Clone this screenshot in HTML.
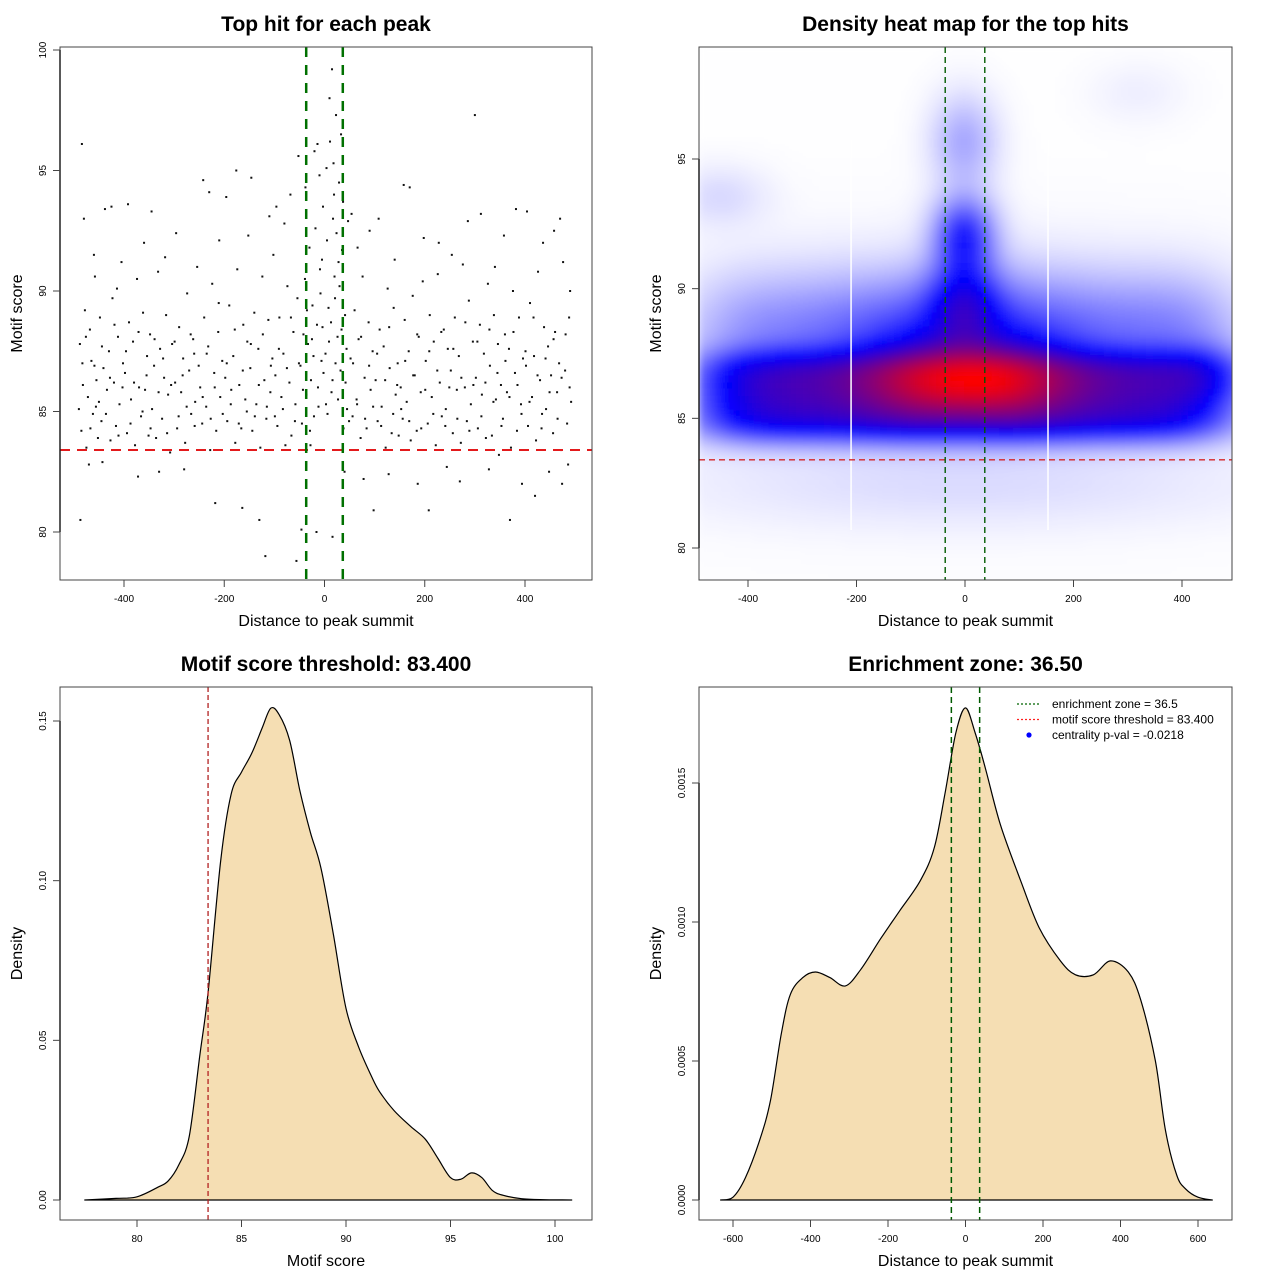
<!DOCTYPE html>
<html><head><meta charset="utf-8"><style>
html,body{margin:0;padding:0;background:#fff}
svg{display:block;font-family:"Liberation Sans",Arial,sans-serif}
</style></head><body>
<svg id="fig" width="1280" height="1280" viewBox="0 0 1280 1280" xmlns="http://www.w3.org/2000/svg">
<defs>
<filter id="blur" x="0" y="0" width="1" height="1"><feGaussianBlur stdDeviation="4"/></filter>
<clipPath id="clip2"><rect x="699" y="47" width="533" height="533"/></clipPath>
</defs>
<g id="p1"></g>
<g id="p2"></g>
<g id="p3"></g>
<g id="p4"></g>
</svg>
<script>
// ---------- data ----------
const hits = [[-488,87.8],[-485,84.2],[-482,86.1],[-478,89.2],[-475,83.5],[-472,85.6],[-468,88.4],[-465,87.1],[-462,84.9],[-458,90.6],[-455,86.3],[-452,83.9],[-484,96.1],[-487,80.5],[-480,93],[-470,82.8],[-460,91.5],[-456,85.2],
[-448,88.9],[-445,84.6],[-441,86.8],[-438,93.4],[-434,85.9],[-430,87.5],[-427,83.8],[-423,89.7],[-420,86.2],[-416,84.4],[-412,88.1],[-409,85.3],[-405,91.2],[-402,87.0],[-443,82.9],[-425,93.5],[-414,90.1],
[-398,86.6],[-394,84.1],[-390,88.7],[-386,85.5],[-382,87.9],[-378,83.6],[-374,90.5],[-370,86.0],[-366,84.8],[-362,89.1],[-358,85.9],[-354,87.3],[-392,93.6],[-372,82.3],[-360,92.0],[-351,84.0],
[-348,88.2],[-344,85.1],[-340,86.9],[-336,83.9],[-332,90.8],[-328,87.6],[-324,84.7],[-320,86.4],[-316,89.0],[-312,85.7],[-308,83.3],[-304,87.8],[-345,93.3],[-330,82.5],[-318,91.4],
[-298,86.2],[-294,84.3],[-290,88.5],[-286,85.8],[-282,87.2],[-278,83.7],[-274,89.9],[-270,86.7],[-266,84.9],[-262,88.0],[-258,85.4],[-254,91.0],[-296,92.4],[-280,82.6],[-260,87.4],
[-248,86.0],[-244,84.5],[-240,88.9],[-236,85.2],[-232,87.7],[-228,83.4],[-224,90.3],[-220,86.6],[-216,84.2],[-212,88.3],[-208,85.6],[-204,87.1],[-242,94.6],[-230,94.1],[-218,81.2],[-210,92.1],
[-198,86.4],[-194,84.6],[-190,89.4],[-186,85.9],[-182,87.3],[-178,83.7],[-174,90.9],[-170,86.1],[-166,84.3],[-162,88.6],[-158,85.5],[-154,87.9],[-196,93.9],[-176,95.0],[-164,81.0],[-152,92.3],
[-148,86.8],[-144,84.2],[-140,89.1],[-136,85.3],[-132,87.6],[-128,83.5],[-124,90.6],[-120,86.3],[-116,84.7],[-112,88.8],[-108,85.8],[-104,87.2],[-146,94.7],[-130,80.5],[-118,79.0],[-110,93.1],[-102,91.5],
[-98,86.5],[-94,84.4],[-90,88.9],[-86,85.6],[-82,87.4],[-78,83.6],[-74,90.2],[-70,86.2],[-66,84.0],[-62,88.3],[-58,85.3],[-54,89.7],[-96,93.5],[-80,92.8],[-68,94.0],[-56,78.8],[-52,95.6],
[-48,86.9],[-45,84.5],[-42,88.2],[-39,90.5],[-36,85.7],[-33,87.8],[-30,91.8],[-27,86.3],[-24,89.4],[-21,84.8],[-18,92.6],[-15,88.6],[-12,85.2],[-9,90.9],[-6,87.1],[-3,93.5],[-46,80.1],[-38,94.3],[-28,83.6],[-20,95.8],[-14,96.1],[-8,89.9],[-5,91.3],[-2,86.6],[-25,88.0],[-10,94.8],[-16,80.0],
[2,87.4],[5,92.1],[8,89.3],[11,96.2],[14,85.8],[17,93.0],[20,90.6],[23,97.3],[26,88.1],[29,94.5],[32,86.7],[35,91.7],[38,84.3],[41,89.0],[44,87.6],[47,92.9],[4,95.1],[10,98.0],[15,99.2],[19,94.0],[24,92.4],[28,91.2],[33,96.5],[13,88.7],[22,87.0],[37,93.7],[45,85.1],[6,84.9],[30,90.2],[16,79.8],[40,82.5],[18,95.3],
[52,87.2],[56,84.8],[60,89.2],[64,85.5],[68,88.0],[72,83.9],[76,90.6],[80,86.4],[84,84.3],[88,88.7],[92,85.9],[96,87.5],[54,93.2],[66,91.8],[78,82.2],[90,92.5],[98,80.9],
[102,86.3],[106,84.6],[110,88.4],[114,85.2],[118,87.7],[122,83.5],[126,90.1],[130,86.8],[134,84.1],[138,89.3],[142,85.7],[146,87.0],[108,93.0],[128,82.4],[140,91.3],[148,84.0],
[152,86.0],[156,84.7],[160,88.8],[164,85.4],[168,87.5],[172,83.8],[176,89.8],[180,86.5],[184,84.2],[188,88.1],[192,85.8],[196,90.4],[158,94.4],[170,94.3],[186,82.0],[198,92.2],
[202,87.1],[206,84.5],[210,89.0],[214,85.6],[218,87.9],[222,83.6],[226,90.7],[230,86.2],[234,84.8],[238,88.4],[242,85.1],[246,87.6],[208,80.9],[228,92.0],[244,82.7],
[252,86.7],[256,84.1],[260,88.9],[264,85.9],[268,87.3],[272,83.7],[276,91.1],[280,86.0],[284,84.6],[288,89.6],[292,85.3],[296,87.9],[254,91.5],[270,82.1],[286,92.9],[300,97.3],
[302,86.4],[306,84.3],[310,88.6],[314,85.7],[318,87.4],[322,83.9],[326,90.3],[330,86.9],[334,84.0],[338,89.0],[342,85.5],[346,87.8],[312,93.2],[328,82.6],[340,91.0],[348,83.2],
[352,86.1],[356,84.7],[360,88.2],[364,85.8],[368,87.6],[372,83.5],[376,90.0],[380,86.6],[384,84.2],[388,88.9],[392,85.3],[396,87.2],[358,92.3],[370,80.5],[382,93.4],[394,82.0],
[402,86.9],[406,84.4],[410,89.5],[414,85.6],[418,87.3],[422,83.8],[426,90.8],[430,86.3],[434,84.9],[438,88.5],[442,85.1],[446,87.7],[404,93.3],[420,81.5],[436,92.0],[448,82.5],
[452,86.5],[456,84.1],[460,88.3],[464,85.8],[468,87.0],[472,83.4],[476,91.2],[480,86.7],[484,84.5],[488,88.9],[492,85.4],[470,93.0],[486,82.8],[490,90.0],[458,92.5],[474,82.0]];
const bandHits = [[-490,85.1],[-483,87.0],[-476,88.1],[-467,84.3],[-459,86.9],[-450,85.4],[-444,87.7],[-436,84.9],[-428,86.4],[-419,88.6],[-411,84.0],[-403,86.0],[-396,87.5],[-387,84.5],[-380,86.2],[-371,88.3],[-363,85.0],[-355,86.5],[-347,84.3],[-339,88.0],[-331,85.8],[-322,87.2],[-314,84.1],[-306,86.1],[-299,87.9],[-291,84.8],[-283,86.5],[-275,85.2],[-267,88.2],[-259,84.4],[-251,86.9],[-243,85.6],[-235,87.4],[-227,84.7],[-219,86.0],[-211,89.5],[-203,84.9],[-195,87.0],[-187,85.3],[-179,88.4],[-171,84.5],[-163,86.7],[-155,85.0],[-147,87.8],[-139,84.8],[-131,86.1],[-123,88.2],[-115,85.2],[-107,86.9],[-99,84.8],[-91,87.6],[-83,85.1],[-75,86.8],[-67,88.9],[-59,84.6],[-51,87.0],[-43,85.9],[-35,89.2],[-29,84.2],[-22,87.3],[-13,86.0],[-4,88.5],[3,85.3],[9,87.9],[16,86.3],[21,89.7],[27,85.5],[34,88.4],[42,86.2],[49,84.6],[57,87.0],[65,85.3],[73,88.1],[81,84.7],[89,86.9],[97,85.2],[105,87.4],[113,84.4],[121,86.3],[129,88.5],[137,84.9],[145,86.1],[153,85.1],[161,87.1],[169,84.6],[177,86.5],[185,88.2],[193,84.3],[201,85.9],[209,87.5],[217,84.9],[225,86.7],[233,88.3],[241,84.4],[249,86.0],[257,87.6],[265,84.7],[273,86.4],[281,88.7],[289,84.2],[297,86.1],[305,87.9],[313,84.8],[321,86.2],[329,88.4],[337,85.4],[345,86.6],[353,84.4],[361,87.1],[369,85.6],[377,88.3],[385,86.1],[393,84.9],[401,87.5],[409,85.4],[417,88.9],[425,86.5],[433,84.3],[441,87.2],[449,85.8],[457,88.0],[465,84.7],[473,86.4],[481,88.2],[489,86.0]];
const scoreThreshold = 83.4;
const enrichZone = 36.5;
// heatmap kernel components (distance, score, weight, sd-x, sd-y)
const blobX  = [-420,-330,-240,-150,-60,60,150,240,330,420, -420,-330,-240,-150,-60,60,150,240,330,420, -420,-330,-240,-150,-60,60,150,240,330,420, -420,-330,-240,-150,-60,60,150,240,330,420, 10, 0, 0, 0, 0, 0, -450, 320, 450];
const blobY  = [84.8,84.8,84.8,84.8,84.8,84.8,84.8,84.8,84.8,84.8, 85.8,85.8,85.8,85.8,85.8,85.8,85.8,85.8,85.8,85.8, 86.8,86.8,86.8,86.8,86.8,86.8,86.8,86.8,86.8,86.8, 88.3,88.3,88.3,88.3,88.3,88.3,88.3,88.3,88.3,88.3, 86.4, 89.4, 92.0, 95.6, 86.5, 82.2, 93.5, 97.5, 86.6];
const blobW  = [0.35,0.35,0.35,0.35,0.35,0.35,0.35,0.35,0.35,0.35, 0.35,0.35,0.35,0.35,0.35,0.35,0.35,0.35,0.35,0.35, 0.35,0.35,0.35,0.35,0.35,0.35,0.35,0.35,0.35,0.35, 0.15,0.15,0.17,0.22,0.3,0.3,0.22,0.17,0.17,0.19, 1.1, 0.6, 0.62, 0.22, 0.07, 0.05, 0.08, 0.03, 0.22];
const blobSX = [70,70,70,70,70,70,70,70,70,70, 70,70,70,70,70,70,70,70,70,70, 70,70,70,70,70,70,70,70,70,70, 70,70,70,70,70,70,70,70,70,70, 115, 45, 38, 40, 400, 350, 60, 60, 50];
const blobSY = [0.6,0.6,0.6,0.6,0.6,0.6,0.6,0.6,0.6,0.6, 0.6,0.6,0.6,0.6,0.6,0.6,0.6,0.6,0.6,0.6, 0.6,0.6,0.6,0.6,0.6,0.6,0.6,0.6,0.6,0.6, 1.5,1.5,1.5,1.5,1.5,1.5,1.5,1.5,1.5,1.5, 1.1, 1.1, 1.0, 1.2, 3.0, 1.0, 0.8, 0.8, 0.8];
const bandEdges = [-210, 153];
// score density
const scoreX = [77.5,79,80,81,81.5,82,82.5,83,83.4,84,84.5,85,85.5,86,86.4,86.8,87.3,87.8,88.3,88.8,89.4,90,90.6,91.2,91.6,92.3,93.1,93.8,94.4,95,95.5,96,96.5,97,97.5,98.4,99.5,100.8];
const scoreD = [0,0.0005,0.001,0.004,0.006,0.011,0.02,0.045,0.065,0.106,0.127,0.134,0.14,0.148,0.154,0.152,0.144,0.128,0.115,0.104,0.083,0.06,0.048,0.039,0.034,0.028,0.023,0.019,0.013,0.007,0.0065,0.0085,0.007,0.003,0.0015,0.0004,0.0001,0];
// distance density
const distX = [-632,-600,-568,-530,-503,-475,-452,-420,-387,-350,-310,-270,-219,-170,-116,-80,-52,-25,0,25,52,90,142,190,245,284,330,374,420,452,490,516,545,568,600,637];
const distD = [0,0.00001,0.00008,0.00022,0.00036,0.0006,0.00074,0.0008,0.00082,0.0008,0.00077,0.00083,0.00094,0.00104,0.00115,0.00127,0.00147,0.00168,0.00177,0.00168,0.00155,0.00135,0.00115,0.00098,0.00086,0.00081,0.00081,0.00086,0.00082,0.00072,0.0005,0.00025,0.00009,0.00004,0.00001,0];
// ticks
const p1XTicks = [-400,-200,0,200,400], p1YTicks = [80,85,90,95,100];
const p2XTicks = [-400,-200,0,200,400], p2YTicks = [80,85,90,95];
const p3XTicks = [80,85,90,95,100], p3YTicks = [0,0.05,0.10,0.15], p3YLabels = ["0.00","0.05","0.10","0.15"];
const p4XTicks = [-600,-400,-200,0,200,400,600], p4YTicks = [0,0.0005,0.001,0.0015], p4YLabels = ["0.0000","0.0005","0.0010","0.0015"];

// ---------- helpers ----------
const NS = "http://www.w3.org/2000/svg";
function mk(parent, tag, attrs, text){
  const e = document.createElementNS(NS, tag);
  for (const k in attrs) e.setAttribute(k, attrs[k]);
  if (text !== undefined) e.textContent = text;
  parent.appendChild(e);
  return e;
}
function lin(d0,d1,r0,r1){ return v => r0 + (v-d0)/(d1-d0)*(r1-r0); }

function frame(g, box, title, xlab, ylab, sx, sy, xt, yt, xl, yl){
  const b = mk(g,'rect',{x:box.x,y:box.y,width:box.w,height:box.h,fill:'none',stroke:'#444','stroke-width':1});
  
  
  const t = mk(g,'text',{x:box.x+box.w/2,y:box.y-16,'text-anchor':'middle','font-size':21,'font-weight':'bold',fill:'#000'},title);
  
  
  const xa = mk(g,'text',{x:box.x+box.w/2,y:box.y+box.h+46,'text-anchor':'middle','font-size':16,fill:'#000'},xlab);
  
  
  const cy = box.y+box.h/2;
  const ya = mk(g,'text',{x:0,y:0,transform:`translate(${box.x-38},${cy}) rotate(-90)`,'text-anchor':'middle','font-size':16,fill:'#000'},ylab);
  
  
  const bx = box.y+box.h;
  const xs = xt.map(sx);
  mk(g,'line',{x1:xs[0],x2:xs[xs.length-1],y1:bx,y2:bx,stroke:'#444'});
  xt.forEach((v,i)=>{
    const X = sx(v);
    mk(g,'line',{x1:X,x2:X,y1:bx,y2:bx+7,stroke:'#444'});
    const l = mk(g,'text',{x:X,y:bx+22,'text-anchor':'middle','font-size':10,fill:'#000'}, xl?xl[i]:String(v));
    
    
  });
  const ys = yt.map(sy);
  mk(g,'line',{x1:box.x,x2:box.x,y1:ys[0],y2:ys[ys.length-1],stroke:'#222','stroke-width':1.5});
  yt.forEach((v,i)=>{
    const Y = sy(v);
    mk(g,'line',{x1:box.x-7,x2:box.x,y1:Y,y2:Y,stroke:'#444'});
    const l = mk(g,'text',{x:0,y:0,transform:`translate(${box.x-14},${Y}) rotate(-90)`,'text-anchor':'middle','font-size':10,fill:'#000'}, yl?yl[i]:String(v));
    
    
  });
}

// ---------- panel 1 ----------
(function(){
  const g = document.getElementById('p1');
  const box = {x:60,y:47,w:532,h:533};
  const sx = lin(-400,400,124,525), sy = lin(80,100,532,50);
  hits.concat(bandHits).forEach(p=>{
    const d = mk(g,'rect',{x:sx(p[0])-1,y:sy(p[1])-1,width:2,height:2,fill:'#111'});
    
    
  });
  const h = mk(g,'line',{x1:box.x,x2:box.x+box.w,y1:sy(scoreThreshold),y2:sy(scoreThreshold),stroke:'#e31a1c','stroke-width':2,'stroke-dasharray':'10 7'});
  
  
  [-enrichZone,enrichZone].forEach(v=>{
    const l = mk(g,'line',{x1:sx(v),x2:sx(v),y1:box.y,y2:box.y+box.h,stroke:'#007000','stroke-width':2.5,'stroke-dasharray':'10 8'});
    
    
  });
  frame(g,box,'Top hit for each peak','Distance to peak summit','Motif score',sx,sy,p1XTicks,p1YTicks);
})();

// ---------- panel 2 ----------
(function(){
  const g = document.getElementById('p2');
  const box = {x:699,y:47,w:533,h:533};
  const sx = lin(-400,400,748,1182), sy = lin(80,95,548,159);
  const ix = lin(748,1182,-400,400), iy = lin(548,159,80,95);
  const cell = 7;
  const vals = [];
  let mx = 0;
  for (let py=box.y; py<box.y+box.h; py+=cell){
    for (let px=box.x; px<box.x+box.w; px+=cell){
      const X = ix(px+cell/2), Y = iy(py+cell/2);
      let d = 0;
      for (let k=0;k<blobX.length;k++){
        const a=(X-blobX[k])/blobSX[k], b=(Y-blobY[k])/blobSY[k];
        d += blobW[k]*Math.exp(-0.5*(a*a+b*b));
      }
      vals.push([px,py,d]); if (d>mx) mx=d;
    }
  }
  const hg = mk(g,'g',{'clip-path':'url(#clip2)'});
  const hm = mk(hg,'g',{filter:'url(#blur)'});
  
  
  vals.forEach(v=>{
    const t = v[2]/mx;
    let r,gg,bb;
    if (t<0.36){ const s=Math.pow(t/0.36,0.85); r=255*(1-s); gg=255*(1-s); bb=255; }
    else { const s=Math.min(1,(t-0.36)/0.64); r=255*s; gg=0; bb=255*(1-s); }
    const c = mk(hm,'rect',{x:v[0]-1,y:v[1]-1,width:cell+2,height:cell+2,fill:`rgb(${r|0},${gg|0},${bb|0})`});
    
    
  });
  bandEdges.forEach(v=>{
    const l = mk(g,'line',{x1:sx(v),x2:sx(v),y1:140,y2:530,stroke:'#fff','stroke-width':1.5});
    
    
  });
  const h = mk(g,'line',{x1:box.x,x2:box.x+box.w,y1:sy(scoreThreshold),y2:sy(scoreThreshold),stroke:'#d62728','stroke-width':1.3,'stroke-dasharray':'6 4'});
  
  
  [-enrichZone,enrichZone].forEach(v=>{
    const l = mk(g,'line',{x1:sx(v),x2:sx(v),y1:box.y,y2:box.y+box.h,stroke:'#005a00','stroke-width':1.4,'stroke-dasharray':'6 4'});
    
    
  });
  frame(g,box,'Density heat map for the top hits','Distance to peak summit','Motif score',sx,sy,p2XTicks,p2YTicks);
})();

// ---------- density panels ----------
function smoothPath(pts){
  let d = `M${pts[0][0].toFixed(1)},${pts[0][1].toFixed(1)}`;
  for (let i=0;i<pts.length-1;i++){
    const p0=pts[Math.max(0,i-1)], p1=pts[i], p2=pts[i+1], p3=pts[Math.min(pts.length-1,i+2)];
    const c1=[p1[0]+(p2[0]-p0[0])/6, p1[1]+(p2[1]-p0[1])/6];
    const c2=[p2[0]-(p3[0]-p1[0])/6, p2[1]-(p3[1]-p1[1])/6];
    d += ` C${c1[0].toFixed(1)},${c1[1].toFixed(1)} ${c2[0].toFixed(1)},${c2[1].toFixed(1)} ${p2[0].toFixed(1)},${p2[1].toFixed(1)}`;
  }
  return d;
}
function densityPanel(id, box, xs, ds, sx, sy, name){
  const g = document.getElementById(id);
  const pts = xs.map((x,i)=>[sx(x), sy(ds[i])]);
  const d = smoothPath(pts) + ` L${sx(xs[xs.length-1])},${sy(0)} L${sx(xs[0])},${sy(0)} Z`;
  const a = mk(g,'path',{d:d,fill:'#f5deb3',stroke:'#000','stroke-width':1.2,'stroke-linejoin':'round'});
  
  
  const z = mk(g,'line',{x1:sx(xs[0]),x2:sx(xs[xs.length-1]),y1:sy(0),y2:sy(0),stroke:'#000','stroke-width':1});
  
  
  return g;
}
(function(){
  const box = {x:60,y:687,w:532,h:533};
  const sx = lin(80,100,137,555), sy = lin(0,0.15,1200,721);
  const g = densityPanel('p3',box,scoreX,scoreD,sx,sy,'score-density-area');
  const l = mk(g,'line',{x1:sx(scoreThreshold),x2:sx(scoreThreshold),y1:box.y,y2:box.y+box.h,stroke:'#b22222','stroke-width':1.3,'stroke-dasharray':'5 3'});
  
  
  frame(g,box,'Motif score threshold: 83.400','Motif score','Density',sx,sy,p3XTicks,p3YTicks,null,p3YLabels);
})();
(function(){
  const box = {x:699,y:687,w:533,h:533};
  const sx = lin(-600,600,733,1198), sy = lin(0,0.0015,1200,783);
  const g = densityPanel('p4',box,distX,distD,sx,sy,'distance-density-area');
  [-enrichZone,enrichZone].forEach(v=>{
    const l = mk(g,'line',{x1:sx(v),x2:sx(v),y1:box.y,y2:box.y+box.h,stroke:'#005a00','stroke-width':1.5,'stroke-dasharray':'6 4'});
    
    
  });
  frame(g,box,'Enrichment zone: 36.50','Distance to peak summit','Density',sx,sy,p4XTicks,p4YTicks,null,p4YLabels);
  const lg = mk(g,'g',{});
  
  
  const items = [['enrichment zone = 36.5','#006400','line'],['motif score threshold = 83.400','#ff2020','line'],['centrality p-val = -0.0218','#0000ff','dot']];
  items.forEach((it,i)=>{
    const y = 704 + i*15.5;
    const e = mk(lg,'g',{});
    
    
    if (it[2]==='line') mk(e,'line',{x1:1017,x2:1041,y1:y,y2:y,stroke:it[1],'stroke-width':1.3,'stroke-dasharray':'2 2'});
    else mk(e,'circle',{cx:1029,cy:y,r:2.6,fill:it[1]});
    mk(e,'text',{x:1052,y:y+4,'font-size':12,fill:'#000'},it[0]);
  });
})();
</script>
</body></html>
